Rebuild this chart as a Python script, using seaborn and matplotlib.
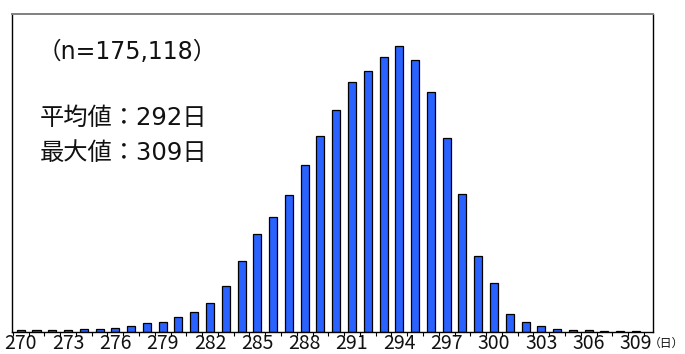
import matplotlib
matplotlib.use("Agg")
import matplotlib.pyplot as plt
import seaborn as sns
import pandas as pd
import numpy as np
from matplotlib.ticker import FixedLocator

days = list(range(270, 310))
counts = [80, 80, 110, 110, 160, 160, 220, 320, 460, 540,
          810, 1080, 1570, 2490, 3840, 5300, 6220, 7410, 9030, 10600,
          12000, 13520, 14110, 14870, 15460, 14700, 12970, 10490, 7460, 4110,
          2650, 970, 540, 300, 160, 90, 90, 40, 40, 40]
tick_labels = [str(d) if (d - 270) % 3 == 0 else "" for d in days]
n_text = "（n=175,118）"
mean_text = "平均値：292日"
max_text = "最大値：309日"
unit_text = "（日）"

sns.set_theme(style="white")
plt.rcParams['font.family'] = ['Noto Sans CJK JP', 'DejaVu Sans']

df = pd.DataFrame({"day": [str(d) for d in days], "count": counts})

fig = plt.figure(figsize=(6.85, 3.54), dpi=100)
ax = fig.add_axes([12.5/685, 1 - 331.7/354, (653 - 12.5)/685, (331.7 - 14)/354])
sns.barplot(data=df, x="day", y="count", color="#2962FF", saturation=1,
            width=0.51, edgecolor="black", linewidth=0.9, ax=ax)

ax.set_xlim(-0.52, 40.08)
ax.set_ylim(0, 17200)
ax.set_xlabel("")
ax.set_ylabel("")
ax.set_yticks([])
ax.set_xticks(range(len(days)))
ax.set_xticklabels(tick_labels, fontsize=14, family=['Liberation Sans Narrow', 'Noto Sans CJK JP'])
ax.tick_params(axis="x", which="major", length=0, pad=1, colors="#111111")
ax.xaxis.set_minor_locator(FixedLocator(np.arange(-0.5, len(days), 1.0)))
ax.tick_params(axis="x", which="minor", length=3, width=0.8, direction="out", color="black", bottom=True)

for s in ["left", "right", "bottom"]:
    ax.spines[s].set_color("black")
    ax.spines[s].set_linewidth(1.0)
ax.spines["top"].set_color("#808080")
ax.spines["top"].set_linewidth(1.4)

txt_family = ['DejaVu Sans', 'Noto Sans CJK JP']
fig.text(38/685, 1 - 52/354, n_text, fontsize=17, va="center", ha="left", color="#111111", family=txt_family)
fig.text(40/685, 1 - 118/354, mean_text, fontsize=17.5, va="center", ha="left", color="#111111", family=txt_family)
fig.text(40/685, 1 - 153/354, max_text, fontsize=17.5, va="center", ha="left", color="#111111", family=txt_family)
fig.text(684/685, 1 - 343/354, unit_text, fontsize=8.5, va="center", ha="right", color="#111111")

fig.savefig("out.png", dpi=100)
